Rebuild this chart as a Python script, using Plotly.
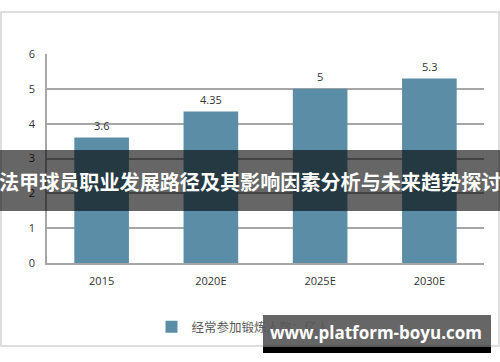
import plotly.graph_objects as go

categories = ["2015", "2020E", "2025E", "2030E"]
values = [3.6, 4.35, 5, 5.3]
value_labels = ["3.6", "4.35", "5", "5.3"]
y_ticks = [0, 1, 2, 3, 4, 5, 6]
series_name = "经常参加锻炼人数：亿人"
banner_title = "法甲球员职业发展路径及其影响因素分析与未来趋势探讨"
watermark = "www.platform-boyu.com"

W, H = 500, 362
L, R, T, B = 47, 16, 54, 99
PW, PH = W - L - R, H - T - B


def px(x):
    return (x - L) / PW


def py(y):
    return (H - B - y) / PH


bar_color = "#5b8ea6"
tick_font = dict(family="Open Sans, DejaVu Sans", size=11, color="#333333")

fig = go.Figure()
fig.add_trace(go.Bar(
    x=categories, y=values, name=series_name,
    marker=dict(color=bar_color, line=dict(width=0)),
    showlegend=True, hoverinfo="skip",
))

annotations = []
for i, (v, t) in enumerate(zip(values, value_labels)):
    annotations.append(dict(x=i, y=v, text=t, showarrow=False, yshift=12,
                            font=tick_font, xref="x", yref="y"))

annotations.append(dict(
    x=px(250), y=py(181), xref="paper", yref="paper", text="<b>" + banner_title + "</b>",
    showarrow=False, xanchor="center", yanchor="middle",
    font=dict(family="Noto Sans CJK SC", size=20.1, color="white"),
))
annotations.append(dict(
    x=px(376), y=py(332), xref="paper", yref="paper", text="<b>" + watermark + "</b>",
    showarrow=False, xanchor="center", yanchor="middle",
    font=dict(family="Open Sans, Noto Sans", size=17, color="white"),
))

shapes = [
    dict(type="rect", xref="paper", yref="paper", x0=px(1), x1=px(499), y0=py(12), y1=py(346),
         line=dict(color="#d4d4d4", width=1.5), fillcolor="rgba(0,0,0,0)", layer="below"),
    dict(type="rect", xref="paper", yref="paper", x0=px(0), x1=px(500), y0=py(150), y1=py(211),
         line=dict(width=0), fillcolor="rgba(0,0,0,0.6)", layer="above"),
    dict(type="rect", xref="paper", yref="paper", x0=px(263), x1=px(491), y0=py(315), y1=py(347),
         line=dict(width=0), fillcolor="rgba(0,0,0,0.6)", layer="above"),
    dict(type="rect", xref="paper", yref="paper", x0=px(263), x1=px(491), y0=py(347), y1=py(353),
         line=dict(width=0), fillcolor="black", layer="above"),
]

fig.update_layout(
    width=W, height=H, margin=dict(l=L, r=R, t=T, b=B),
    paper_bgcolor="white", plot_bgcolor="white",
    bargap=0.5,
    xaxis=dict(type="category", categoryorder="array", categoryarray=categories,
               range=[-0.5, len(categories) - 0.5],
               showgrid=False, showline=True, linecolor="#a6a6a6", linewidth=1.5,
               tickfont=tick_font, ticks="outside", ticklen=7, tickcolor="rgba(0,0,0,0)",
               fixedrange=True),
    yaxis=dict(range=[0, 6], tickvals=y_ticks, showgrid=True, gridcolor="#a6a6a6", gridwidth=1.5,
               showline=True, linecolor="#a6a6a6", linewidth=1.5, zeroline=False,
               tickfont=tick_font, ticks="outside", ticklen=8, tickcolor="rgba(0,0,0,0)",
               fixedrange=True),
    legend=dict(orientation="h", x=px(243), y=py(327), xanchor="center", yanchor="middle",
                font=dict(family="Noto Sans CJK SC", size=12.5, color="#595959"),
                bgcolor="rgba(0,0,0,0)"),
    annotations=annotations,
    shapes=shapes,
)

fig.write_html("out.html")
